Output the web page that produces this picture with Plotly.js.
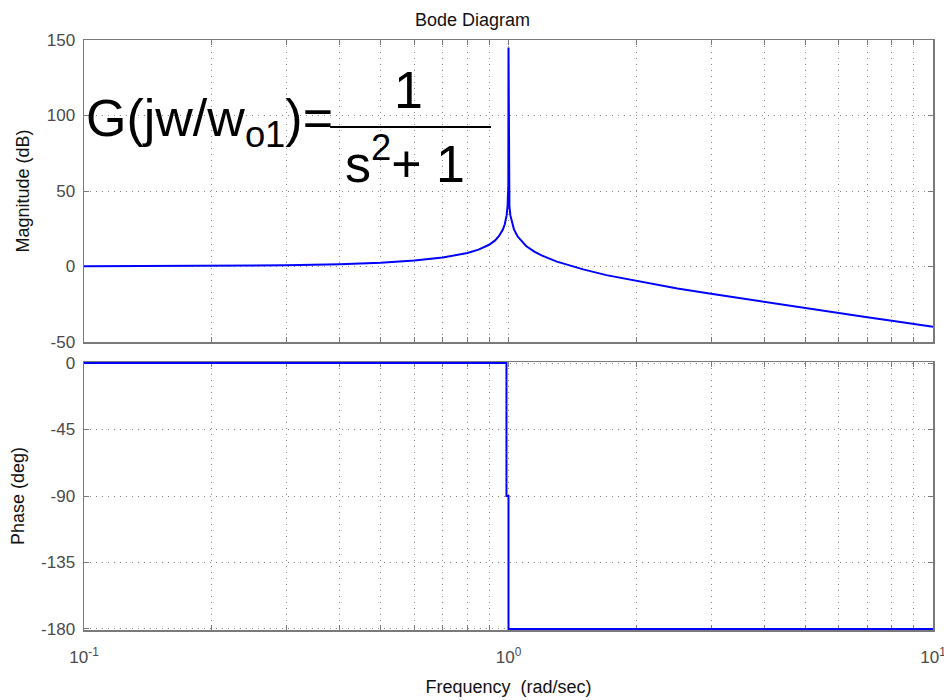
<!DOCTYPE html>
<html>
<head>
<meta charset="utf-8">
<script src="https://cdn.plot.ly/plotly-3.0.1.min.js"></script>
<style>
  html, body { margin: 0; padding: 0; background: #fff; }
  #chart { width: 944px; height: 700px; }
</style>
</head>
<body>
<div id="chart"></div>
<script>
// Magnitude response of G = 1/(s^2 + 1), frequency in rad/sec
const magFreq = [0.1, 0.15, 0.2, 0.3, 0.4, 0.5, 0.6, 0.7, 0.8, 0.85, 0.9, 0.93, 0.95, 0.97, 0.98, 0.99, 0.995, 0.999, 1.0,
                 1.001, 1.005, 1.01, 1.02, 1.03, 1.05, 1.08, 1.1, 1.15, 1.2, 1.3, 1.4, 1.5, 1.7, 2, 2.5, 3, 4, 5, 6, 7, 8, 9, 10];
const magDb   = [0.1, 0.2, 0.4, 0.8, 1.5, 2.5, 3.9, 5.9, 8.9, 11.2, 14.4, 17.3, 20.2, 24.5, 28.0, 34.0, 40.0, 54.0, 145,
                 54.0, 40.0, 34.0, 28.1, 24.6, 20.0, 15.9, 13.6, 9.9, 7.2, 3.2, 0.4, -1.9, -5.7, -9.5, -14.5, -18.1, -23.5, -27.6, -30.9, -33.6, -36.0, -38.1, -39.9];

// Phase response
const phaseFreq = [0.1, 0.989, 0.989, 1.0, 1.0, 10];
const phaseDeg  = [0, 0, -90, -90, -180, -180];

// Axis ticks
const freqTicks = [0.1, 0.2, 0.3, 0.4, 0.5, 0.6, 0.7, 0.8, 0.9, 1, 2, 3, 4, 5, 6, 7, 8, 9, 10];
const freqTickText = ['10<sup>-1</sup>', '', '', '', '', '', '', '', '', '10<sup>0</sup>', '', '', '', '', '', '', '', '', '10<sup>1</sup>'];
const magTicks = [-50, 0, 50, 100, 150];
const magTickText = ['-50', '0', '50', '100', '150'];
const phaseTicks = [-180, -135, -90, -45, 0];
const phaseTickText = ['-180', '-135', '-90', '-45', '0'];

const W = 944, H = 700;
const M = { l: 84, r: 11, t: 40, b: 70 };
const plotH = H - M.t - M.b;
const plotW = W - M.l - M.r;
const px = x => (x - M.l) / plotW;
const py = y => (H - M.b - y) / plotH;

const tickFont = { family: 'Liberation Sans, Arial, sans-serif', size: 17, color: '#4a4a4a' };
const labelFont = { family: 'Liberation Sans, Arial, sans-serif', size: 18, color: '#111' };

const common = {
  type: 'log',
  range: [-1, 1],
  tickvals: freqTicks,
  ticks: 'inside',
  ticklen: 5,
  tickcolor: '#7a7a7a',
  showline: true,
  linecolor: '#7a7a7a',
  linewidth: 1.5,
  mirror: 'ticks',
  showgrid: true,
  gridcolor: '#8a8a8a',
  griddash: '1px,5px',
  gridwidth: 1,
  zeroline: false,
  layer: 'below traces',
  ticklabeloverflow: 'allow',
  tickfont: tickFont,
  fixedrange: true
};

const yCommon = {
  ticks: 'inside',
  ticklen: 5,
  tickcolor: '#7a7a7a',
  showline: true,
  linecolor: '#7a7a7a',
  linewidth: 1.5,
  mirror: 'ticks',
  showgrid: true,
  gridcolor: '#8a8a8a',
  griddash: '1px,5px',
  gridwidth: 1,
  zeroline: false,
  layer: 'below traces',
  tickfont: tickFont,
  ticklabelstandoff: 4,
  fixedrange: true
};

const traces = [
  { x: magFreq, y: magDb, xaxis: 'x2', yaxis: 'y', mode: 'lines',
    line: { color: '#0000ff', width: 2 }, hoverinfo: 'skip' },
  { x: phaseFreq, y: phaseDeg, xaxis: 'x', yaxis: 'y2', mode: 'lines',
    line: { color: '#0000ff', width: 2 }, hoverinfo: 'skip' }
];

const layout = {
  width: W, height: H,
  margin: M,
  paper_bgcolor: '#fff',
  plot_bgcolor: '#fff',
  showlegend: false,
  title: { text: 'Bode Diagram', font: labelFont, x: px(509), xanchor: 'center', y: 1 - 20 / H, yanchor: 'middle' },
  xaxis: Object.assign({}, common, {
    anchor: 'y2', domain: [0, 1], ticktext: freqTickText, ticklabelstandoff: 11,
    title: { text: 'Frequency  (rad/sec)', font: labelFont, standoff: 14 }
  }),
  xaxis2: Object.assign({}, common, {
    anchor: 'y', domain: [0, 1], matches: 'x', showticklabels: false
  }),
  yaxis: Object.assign({}, yCommon, {
    anchor: 'x2', domain: [py(342), 1], range: [-50, 150], tickvals: magTicks, ticktext: magTickText,
    title: { text: 'Magnitude (dB)', font: labelFont, standoff: 12 }
  }),
  // phase range padded by a hair so the 0 and -180 segments sit on top of the frame
  yaxis2: Object.assign({}, yCommon, {
    anchor: 'x', domain: [0, py(362)], range: [-180.7, 0.7], tickvals: phaseTicks, ticktext: phaseTickText,
    title: { text: 'Phase (deg)', font: labelFont, standoff: 12 }
  }),
  shapes: [
    // fraction bar of the transfer-function label
    { type: 'line', xref: 'paper', yref: 'paper', x0: px(330), x1: px(491), y0: py(127), y1: py(127),
      line: { color: '#000', width: 2 } }
  ],
  annotations: [
    { text: 'G(jw/w<sub>o1</sub>)=', xref: 'paper', yref: 'paper', x: px(84), y: py(122),
      xanchor: 'left', yanchor: 'middle', showarrow: false,
      font: { family: 'Liberation Sans, Arial, sans-serif', size: 52, color: '#000' } },
    { text: '1', xref: 'paper', yref: 'paper', x: px(408), y: py(90),
      xanchor: 'center', yanchor: 'middle', showarrow: false,
      font: { family: 'Liberation Sans, Arial, sans-serif', size: 52, color: '#000' } },
    { text: 's<sup>2</sup>+ 1', xref: 'paper', yref: 'paper', x: px(405), y: py(160),
      xanchor: 'center', yanchor: 'middle', showarrow: false,
      font: { family: 'Liberation Sans, Arial, sans-serif', size: 52, color: '#000' } }
  ]
};

Plotly.newPlot('chart', traces, layout, { staticPlot: true, displayModeBar: false });
</script>
</body>
</html>
